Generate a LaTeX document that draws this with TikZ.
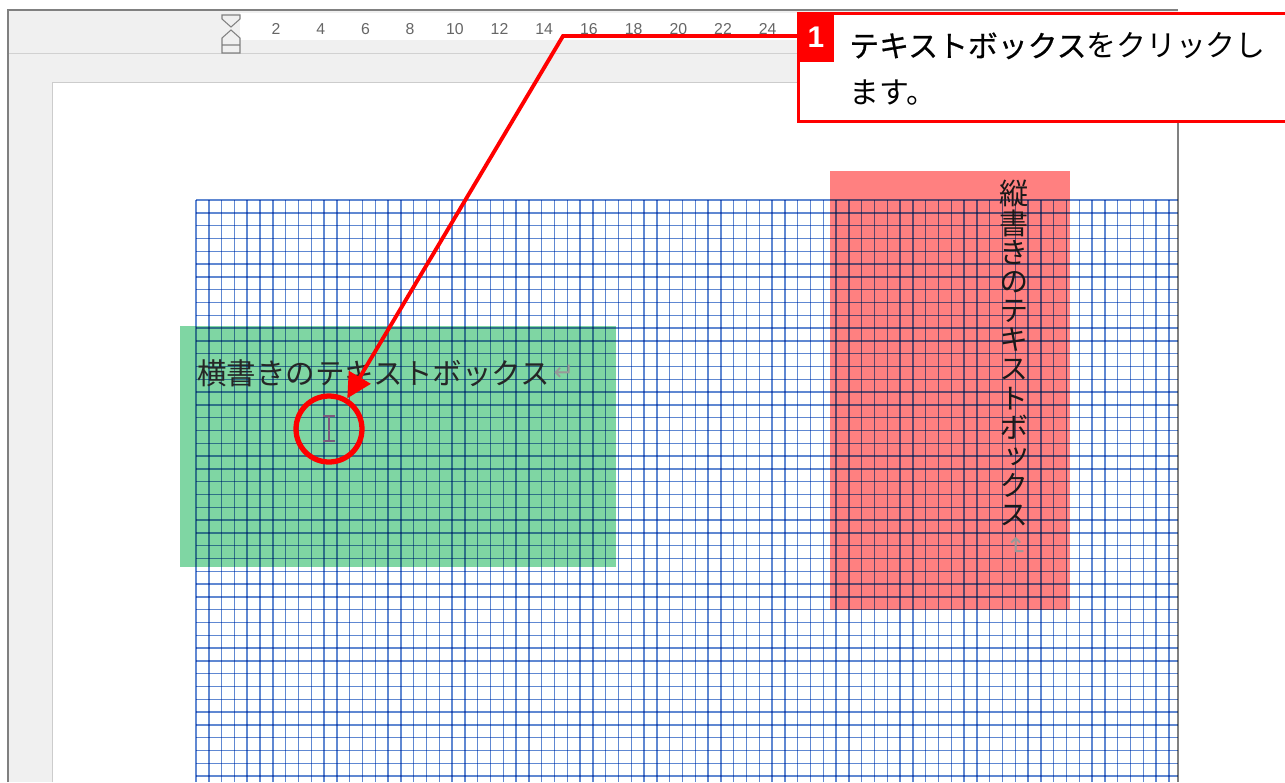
\documentclass[tikz,border=0pt]{standalone}
\usepackage{fontspec}
\setsansfont{Liberation Sans}
\newfontfamily\jpfont{Noto Sans CJK JP}
\newfontfamily\jpboldfont[FakeBold=0.6]{Noto Sans CJK JP}
\newfontfamily\jpvfont[Vertical=Alternates]{Noto Sans CJK JP}
\newfontfamily\symfont{DejaVu Sans}
\newcommand\tatefont{\jpvfont\fontsize{16.6}{16.6}\selectfont\lineskiplimit=-50pt\relax\lineskip=0pt\relax}
\usetikzlibrary{arrows.meta}
\definecolor{rulergray}{RGB}{240,240,240}
\definecolor{framegray}{RGB}{128,128,128}
\definecolor{gridblue}{RGB}{96,136,210}
\definecolor{boxgreen}{RGB}{127,214,163}
\definecolor{boxred}{RGB}{255,128,128}
\definecolor{markred}{RGB}{255,0,0}
\definecolor{cursorgray}{RGB}{125,90,125}
\tikzset{
	rulernum/.style={font=\sffamily\fontsize{9}{9}\selectfont, text=black!60, inner sep=0pt},
	gridline/.style={draw=gridblue, line width=0.8pt},
	retmark/.style={font=\symfont\fontsize{14}{14}\selectfont, text=black!40, inner sep=0pt},
	marker/.style={draw=markred, line width=2.2pt},
}
\begin{document}
\begin{tikzpicture}[x=0.02cm,y=-0.02cm]
	\def\xAbstand{44.7}
	\def\gridStep{12.8}
	\useasboundingbox (0,0) rectangle (1285,782);
	\fill[white] (0,0) rectangle (1285,782);
	% window and ruler
	\fill[rulergray] (8,10) rectangle (1178,782);
	\fill[white] (240,13) rectangle (1178,40);
	\draw[black!18] (8,53) -- (1178,53);
	\draw[framegray, line width=1.2pt] (8,782) -- (8,10) -- (1178,10);
	\draw[framegray, line width=0.6pt] (222,15) -- (240,15) -- (240,19) -- (231,27) -- (222,19) -- cycle;
	\draw[framegray, line width=0.6pt] (231,30) -- (240,38) -- (240,53) -- (222,53) -- (222,38) -- cycle (222,45) -- (240,45);
	\foreach \n [count=\k from 0] in {2,4,...,24}
		\node[rulernum] (r\n) at (276+\xAbstand*\k,29) {\n};
	% page
	\fill[white] (52,82) rectangle (1178,782);
	\draw[black!20] (52,782) -- (52,82) -- (1178,82);
	\draw[framegray, line width=0.8pt] (1178,82) -- (1178,782);
	% text boxes
	\fill[boxgreen] (180,326) rectangle (616,567);
	\fill[boxred] (830,171) rectangle (1070,610);
	% grid
	\begin{scope}[blend mode=multiply]
		\foreach \i in {0,...,76}
			\draw[gridline] (196+\gridStep*\i,200) -- (196+\gridStep*\i,782);
		\foreach \j in {0,...,45}
			\draw[gridline] (196,200+\gridStep*\j) -- (1178,200+\gridStep*\j);
	\end{scope}
	%
	\node[anchor=west, inner sep=0pt, text=black!85, font=\jpfont\fontsize{16.8}{16.8}\selectfont] (yoko) at (197,373) {横書きのテキストボックス};
	\node[retmark] (yokoret) at (564,373) {↵};
	\node[anchor=north, align=center, inner sep=0pt, text=black!90, font=\tatefont] (tate) at (1014,180) {縦\\書\\き\\の\\テ\\キ\\ス\\ト\\ボ\\ッ\\ク\\ス};
	\node[retmark, rotate=-90] (tateret) at (1016,547) {↵};
	% cursor
	\draw[cursorgray, line width=0.8pt] (323,416) -- (335,416) (329,416) -- (329,441) (323,441) -- (335,441);
	\node[circle, draw=markred, line width=3pt, minimum size=1.32cm, inner sep=0pt] (circ) at (329,429) {};
	% callout
	\node[anchor=north west, draw=markred, line width=1.7pt, fill=white, minimum width=10cm, minimum height=2.16cm] (callout) at (797,12) {};
	\node[anchor=north west, fill=markred, minimum width=0.74cm, minimum height=1cm, inner sep=0pt, text=white, font=\sffamily\bfseries\fontsize{17}{17}\selectfont] (num) at (797,12) {1};
	\node[anchor=west, align=left, inner sep=0pt, font=\jpfont\fontsize{17}{26.6}\selectfont] (msg) at (849,69) {{\jpboldfont テキストボックス}をクリックし\\ます。};
	\coordinate (bend) at (563,36);
	\draw[marker, -{Triangle[length=14pt,width=14pt]}] (callout.west |- bend) -- (bend) -- (circ);
	%
\end{tikzpicture}
\end{document}
